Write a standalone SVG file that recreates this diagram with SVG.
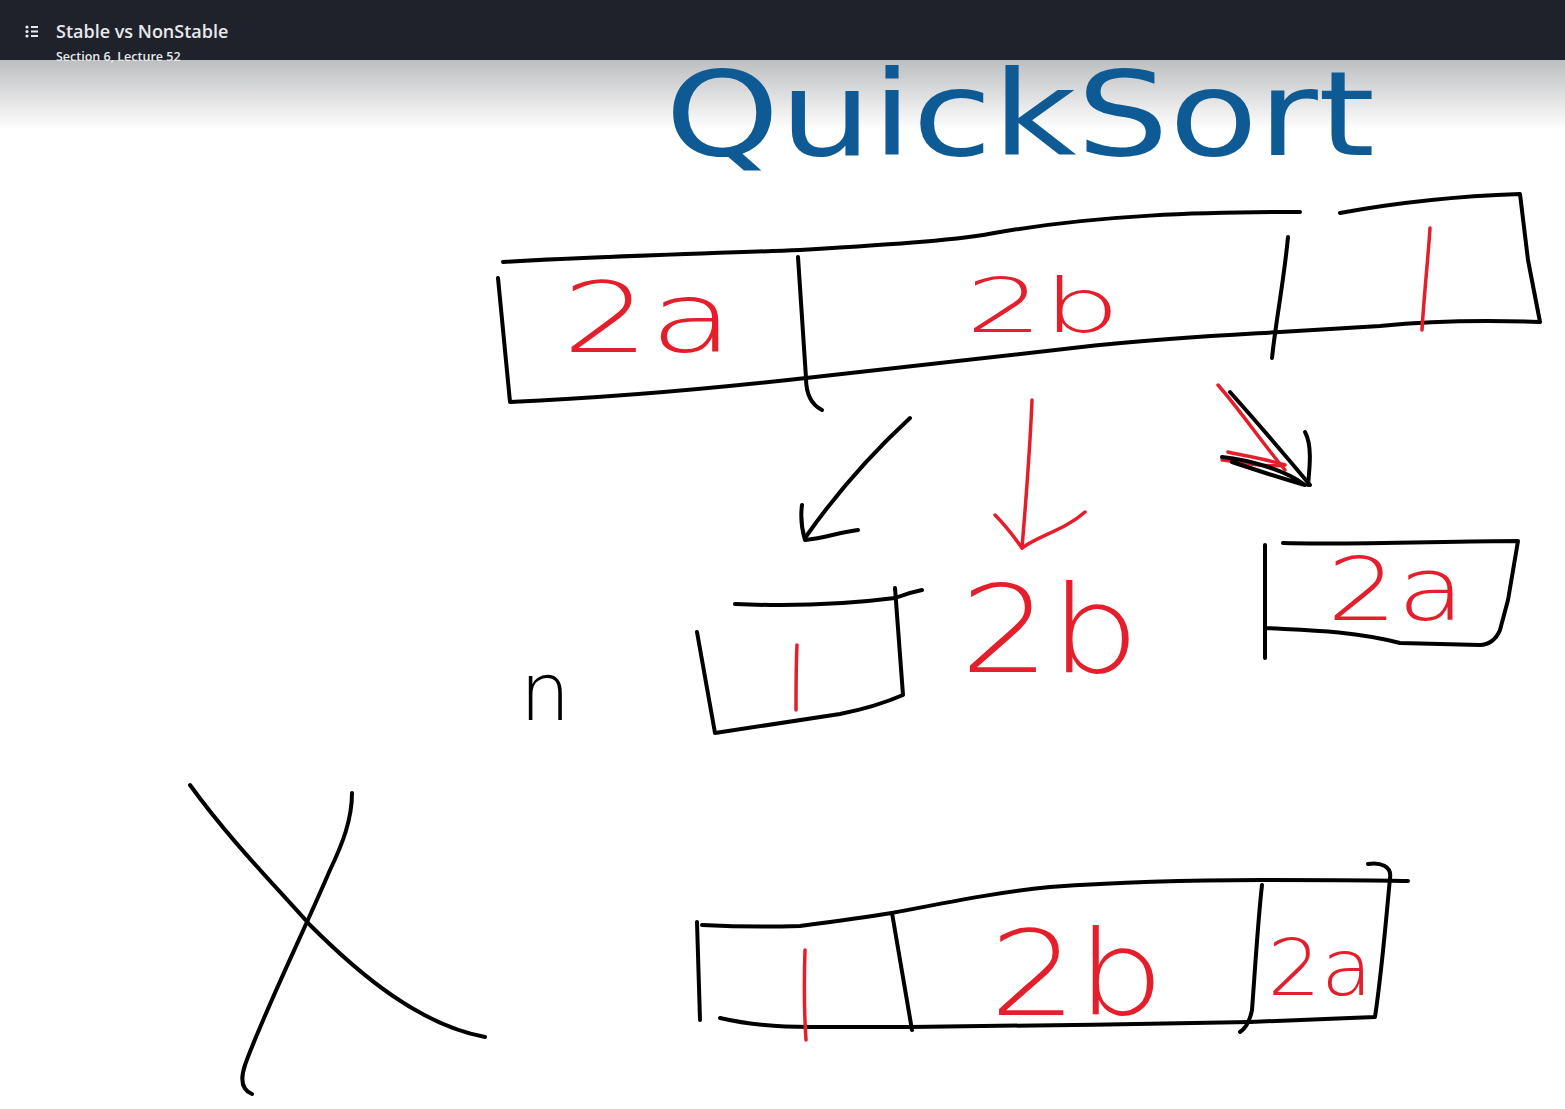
<svg xmlns="http://www.w3.org/2000/svg" width="1565" height="1109" viewBox="0 0 1565 1109">
<defs>
<linearGradient id="shade" x1="0" y1="0" x2="0" y2="1">
<stop offset="0" stop-color="#bdbec0"/>
<stop offset="1" stop-color="#ffffff"/>
</linearGradient>
</defs>
<style>
.ink{fill:none;stroke:#000;stroke-width:4;stroke-linecap:round;stroke-linejoin:round}
.redink{fill:none;stroke:#e41f2b;stroke-width:3.5;stroke-linecap:round;stroke-linejoin:round}
.lbl{fill:#e41f2b;font-family:"DejaVu Sans",sans-serif;font-weight:200}
.hdr{font-family:"Open Sans","Noto Sans",sans-serif;fill:#e8e9eb}
</style>
<rect width="1565" height="1109" fill="#ffffff"/>
<rect x="0" y="60" width="1565" height="70" fill="url(#shade)"/>
<rect x="0" y="0" width="1565" height="60" fill="#1f222b"/>
<g id="header">
<g fill="#e8e9eb">
<circle cx="27" cy="27" r="1.6"/><circle cx="27" cy="31.5" r="1.6"/><circle cx="27" cy="36" r="1.6"/>
<rect x="31" y="26" width="7" height="2"/><rect x="31" y="30.5" width="7" height="2"/><rect x="31" y="35" width="7" height="2"/>
</g>
<text class="hdr" x="56" y="38" font-size="18" font-weight="600">Stable vs NonStable</text>
<text class="hdr" x="56" y="60.5" font-size="12.5" font-weight="600">Section 6, Lecture 52</text>
</g>
<g id="title">
<text x="665" y="155" font-family="DejaVu Sans,sans-serif" font-size="118" fill="#0d5a95" textLength="710" lengthAdjust="spacingAndGlyphs">QuickSort</text>
</g>
<g id="top-array">
<g id="top-cell-2a">
<path class="ink" d="M503 262 C600 256 700 254 800 250"/>
<path class="ink" d="M498 278 L510 402 C600 398 700 390 806 378"/>
<text class="lbl" x="648" y="352" font-size="98" text-anchor="middle" textLength="172" lengthAdjust="spacingAndGlyphs">2a</text>
</g>
<g id="top-cell-2b">
<path class="ink" d="M800 250 C900 244 960 240 1000 232 C1100 215 1200 212 1300 212"/>
<path class="ink" d="M798 257 L806 378 C806 395 812 405 822 410"/>
<path class="ink" d="M806 378 C900 368 1000 356 1100 345 C1170 338 1230 335 1280 332"/>
<path class="ink" d="M1288 237 C1284 280 1276 320 1272 358"/>
<text class="lbl" x="1043" y="332" font-size="74" text-anchor="middle" textLength="155" lengthAdjust="spacingAndGlyphs">2b</text>
</g>
<g id="top-cell-1">
<path class="ink" d="M1340 213 C1400 202 1460 196 1520 194 L1528 260 L1540 322 C1480 320 1420 322 1380 326 L1280 332"/>
<path class="redink" d="M1430 228 C1428 260 1424 295 1422 330"/>
</g>
</g>
<g id="connectors">
<path class="ink" d="M910 418 C870 455 835 495 805 538"/>
<path class="ink" d="M802 505 C800 520 802 530 805 540 C825 538 840 532 858 530"/>
<path class="redink" d="M1032 400 C1030 450 1026 500 1022 548"/>
<path class="redink" stroke-width="4.5" d="M995 515 C1005 525 1015 538 1022 548 C1040 535 1065 530 1085 512"/>
<path class="redink" d="M1218 385 C1240 410 1260 440 1285 470"/>
<path class="redink" d="M1222 460 C1240 462 1265 468 1285 465 C1270 460 1240 455 1228 452"/>
<path class="ink" d="M1230 392 C1255 420 1285 455 1310 485"/>
<path class="ink" d="M1222 457 C1250 460 1285 470 1305 485 C1280 478 1250 468 1232 462"/>
<path class="ink" d="M1305 432 C1312 445 1310 465 1308 485"/>
</g>
<g id="n-label">
<text x="545" y="720" font-family="DejaVu Sans,sans-serif" font-weight="200" font-size="80" fill="#000" text-anchor="middle">n</text>
</g>
<g id="mid-cell-1">
<path class="ink" d="M735 604 C780 606 840 605 895 598 C905 594 912 592 922 590"/>
<path class="ink" d="M895 588 L903 695 C880 705 860 710 840 714 L715 733 L697 632"/>
<path class="redink" d="M797 645 C796 665 796 688 796 710"/>
</g>
<g id="mid-label-2b">
<text class="lbl" x="1050" y="672" font-size="122" text-anchor="middle" textLength="180" lengthAdjust="spacingAndGlyphs">2b</text>
</g>
<g id="mid-cell-2a">
<path class="ink" d="M1283 543 C1350 545 1450 541 1518 541 L1508 600 L1500 630 C1496 640 1488 645 1480 645 L1400 643 C1350 630 1300 630 1265 628"/>
<path class="ink" d="M1265 545 L1265 658"/>
<text class="lbl" x="1396" y="620" font-size="88" text-anchor="middle" textLength="138" lengthAdjust="spacingAndGlyphs">2a</text>
</g>
<g id="cross">
<path class="ink" d="M190 785 C230 840 270 880 310 925 C360 975 420 1025 485 1037"/>
<path class="ink" d="M352 793 C352 820 342 845 330 870 C300 940 265 1010 245 1065 C240 1080 242 1090 252 1094"/>
</g>
<g id="bottom-array">
<g id="bottom-cell-1">
<path class="ink" d="M702 925 C740 927 770 927 800 926 C830 922 860 918 892 913"/>
<path class="ink" d="M697 922 L700 1020"/>
<path class="ink" d="M720 1018 C750 1025 780 1027 810 1027 L910 1027"/>
<path class="redink" d="M805 950 C804 980 804 1010 806 1040"/>
</g>
<g id="bottom-cell-2b">
<path class="ink" d="M892 913 C960 900 1000 892 1050 887 C1120 882 1180 880 1262 880"/>
<path class="ink" d="M892 913 C898 950 905 990 912 1030"/>
<path class="ink" d="M910 1027 C1000 1026 1150 1024 1250 1022"/>
<path class="ink" d="M1262 885 C1258 920 1255 970 1252 1010 C1250 1020 1246 1028 1240 1032"/>
<text class="lbl" x="1077" y="1015" font-size="118" text-anchor="middle" textLength="175" lengthAdjust="spacingAndGlyphs">2b</text>
</g>
<g id="bottom-cell-2a">
<path class="ink" d="M1262 880 C1320 880 1370 880 1408 881"/>
<path class="ink" d="M1368 864 C1380 862 1392 866 1390 878 C1386 920 1382 970 1375 1017 L1250 1022"/>
<text class="lbl" x="1320" y="995" font-size="78" text-anchor="middle" textLength="105" lengthAdjust="spacingAndGlyphs">2a</text>
</g>
</g>
</svg>
